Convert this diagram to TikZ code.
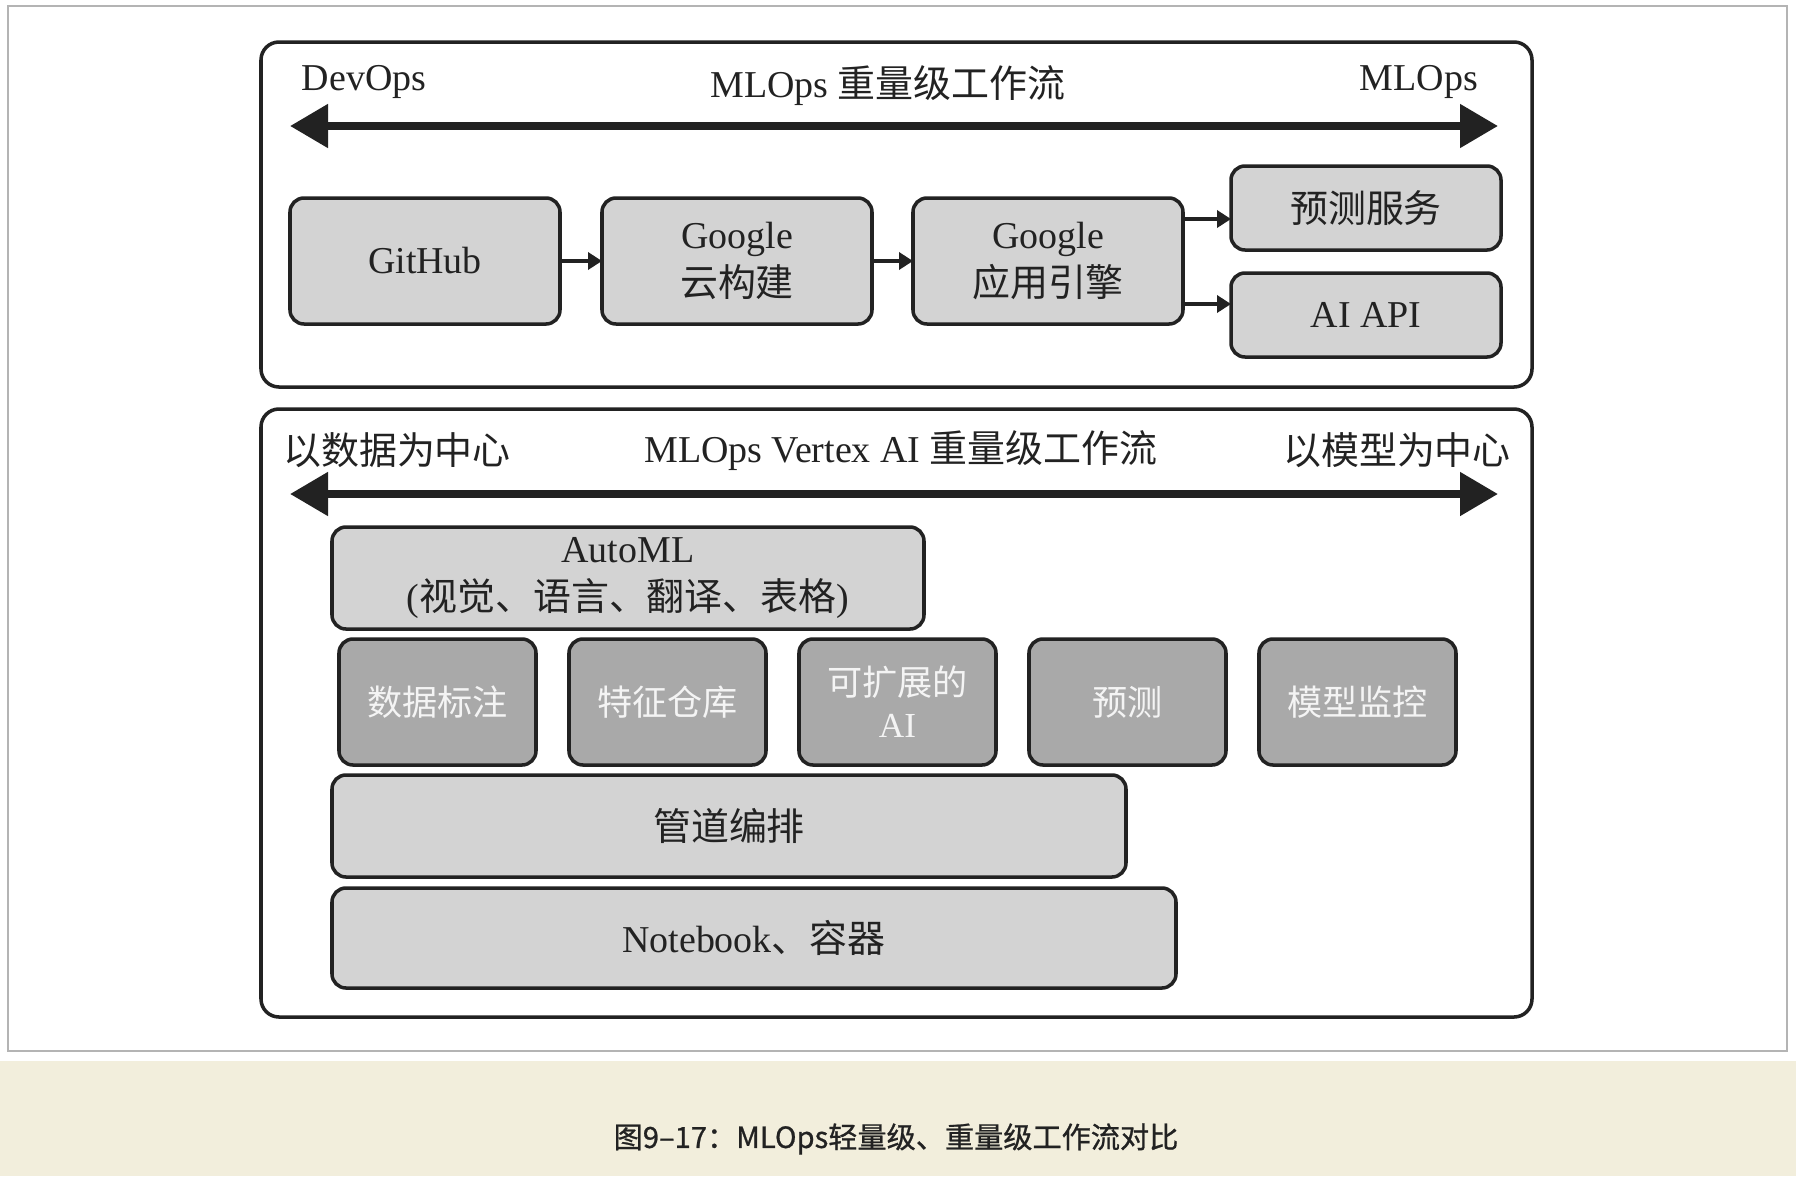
\documentclass[tikz,border=0pt]{standalone}
\usepackage{fontspec}
\setmainfont{Liberation Serif}
\newfontfamily\cjk{Noto Sans CJK SC}
\newfontfamily\capfont[FakeBold=0.8]{Noto Sans CJK SC}
\usepackage{xcolor}
\usepackage{tikz}
\usetikzlibrary{calc,arrows.meta,positioning}
\definecolor{boxfill}{HTML}{D3D3D3}
\definecolor{darkfill}{HTML}{A9A9A9}
\definecolor{inkgray}{HTML}{222222}
\definecolor{paletext}{HTML}{F4F4F4}
\definecolor{bandfill}{HTML}{F2EEDC}
\definecolor{framegray}{HTML}{B4B4B4}
\tikzset{
  panel/.style={draw=inkgray, line width=1pt, rounded corners=1.8mm},
  box/.style={draw=inkgray, line width=1pt, fill=boxfill, rounded corners=1.4mm,
  align=center, text=inkgray, inner sep=0pt, minimum width=27mm,
  minimum height=12.6mm},
  darkbox/.style={box, fill=darkfill, text=paletext, font=\cjk,
  minimum width=19.7mm, minimum height=12.6mm},
  heading/.style={anchor=base, inner sep=0pt, text=inkgray},
  flow/.style={-{Triangle[length=1.4mm,width=1.7mm]}, line width=1pt,
  draw=inkgray},
  axis/.style={{Triangle[length=3.8mm,width=4.2mm]}-{Triangle[length=3.8mm,width=4.2mm]},
  line width=2.3pt, draw=inkgray}
}
\begin{document}
\begin{tikzpicture}[x=0.1mm,y=-0.1mm,node distance=0cm,outer sep=0pt,
  font=\fontsize{10.8pt}{13.8pt}\selectfont]
    \useasboundingbox (0,0) rectangle (1796,1176);
    \fill[white] (0,0) rectangle (1796,1061);
    \fill[bandfill] (0,1061) rectangle (1796,1176);
    \draw[framegray, line width=0.8pt] (8,6) rectangle (1787,1051);
    \draw[panel] (261,42) rectangle (1532,387);
    \draw[panel] (261,409) rectangle (1532,1017);
    % upper panel
    \node (devops) [heading] at (364,90) {DevOps};
    \node (toptitle) [heading] at (888,97) {MLOps {\cjk 重量级工作流}};
    \node (mlops) [heading] at (1419,90) {MLOps};
    \coordinate (topL) at (290,126);
    \coordinate (topR) at (1498,126);
    \draw[axis] (topL) -- (topR);
    \node (github) [box] at (425,261) {GitHub};
    \node (cloudbuild) [box,right=4.2mm of github] {Google\\{\cjk 云构建}};
    \node (appengine) [box,right=4.1mm of cloudbuild] {Google\\{\cjk 应用引擎}};
    \node (predsvc) [box,minimum height=8.4mm] at (1366,208) {\cjk 预测服务};
    \node (aiapi) [box,minimum height=8.4mm,below=2.3mm of predsvc] {AI API};
    \coordinate (e1) at ([yshift=4.2mm]appengine.east);
    \coordinate (e2) at ([yshift=-4.3mm]appengine.east);
    \path (github) edge [flow] (cloudbuild);
    \path (cloudbuild) edge [flow] (appengine);
    \path (e1) edge [flow] (e1 -| predsvc.west);
    \path (e2) edge [flow] (e2 -| aiapi.west);
    % lower panel
    \node (datacentric) [heading] at (397,464) {\cjk 以数据为中心};
    \node (bottitle) [heading] at (901,462) {MLOps Vertex AI {\cjk 重量级工作流}};
    \node (modelcentric) [heading] at (1397,464) {\cjk 以模型为中心};
    \coordinate (botL) at (290,494);
    \coordinate (botR) at (1498,494);
    \draw[axis] (botL) -- (botR);
    \node (automl) [box,anchor=north west,minimum width=59.2mm,minimum height=10.2mm]
    at (332,527) {AutoML\\({\cjk 视觉、语言、翻译、表格})};
    \node (labeling) [darkbox,below right=1mm and 0.7mm of automl.south west] {数据标注};
    \node (feature) [darkbox,right=3.3mm of labeling] {特征仓库};
    \node (scalable) [darkbox,right=3.3mm of feature] {可扩展的\\{\rmfamily AI}};
    \node (predict) [darkbox,right=3.3mm of scalable] {预测};
    \node (monitor) [darkbox,right=3.3mm of predict] {模型监控};
    \node (pipeline) [box,anchor=north west,minimum width=79.4mm,minimum height=10.2mm]
    at ([yshift=-1mm]automl.west |- labeling.south) {\cjk 管道编排};
    \node (notebook) [box,anchor=north west,minimum width=84.4mm,minimum height=10mm]
    at ([yshift=-1.1mm]pipeline.south west) {Notebook{\cjk 、容器}};
    % caption
    \node (caption) [text=inkgray,font=\capfont\fontsize{8.3pt}{10pt}\selectfont]
    at (896,1139) {图9–17：MLOps轻量级、重量级工作流对比};
\end{tikzpicture}
\end{document}
